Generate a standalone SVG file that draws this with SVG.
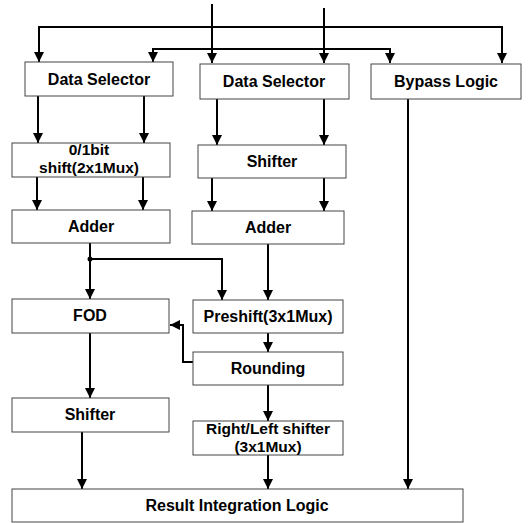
<svg xmlns="http://www.w3.org/2000/svg" width="531" height="523" viewBox="0 0 531 523">
<style>
.box{fill:#fff;stroke:#444;stroke-width:1}
.t{font-family:"Liberation Sans",Arial,sans-serif;font-weight:bold;font-size:16px;fill:#000;text-anchor:middle}
.t2{font-size:15.5px}
.c{fill:none;stroke:#000;stroke-width:2}
</style>
<defs>
<marker id="ah" markerUnits="userSpaceOnUse" markerWidth="10" markerHeight="10" viewBox="0 0 10 10" refX="10" refY="5" orient="auto">
<path d="M0,0 L10,5 L0,10 z" fill="#000"/>
</marker>
</defs>
<rect width="531" height="523" fill="#fff"/>
<g id="connectors">
<path class="c" d="M212,4 V63" marker-end="url(#ah)"/>
<path class="c" d="M324,8 V63" marker-end="url(#ah)"/>
<path class="c" d="M212,27 H39 V62" marker-end="url(#ah)"/>
<path class="c" d="M212,27 H502 V63" marker-end="url(#ah)"/>
<path class="c" d="M324,49 H153 V62" marker-end="url(#ah)"/>
<path class="c" d="M324,49 H390 V63" marker-end="url(#ah)"/>
<path class="c" d="M38,96 V143" marker-end="url(#ah)"/>
<path class="c" d="M144,96 V143" marker-end="url(#ah)"/>
<path class="c" d="M217,99 V145" marker-end="url(#ah)"/>
<path class="c" d="M324,99 V145" marker-end="url(#ah)"/>
<path class="c" d="M37,177 V210" marker-end="url(#ah)"/>
<path class="c" d="M143,177 V210" marker-end="url(#ah)"/>
<path class="c" d="M212,178 V211" marker-end="url(#ah)"/>
<path class="c" d="M324,178 V211" marker-end="url(#ah)"/>
<path class="c" d="M90,243 V299" marker-end="url(#ah)"/>
<circle cx="90" cy="259" r="2.5" fill="#000"/>
<path class="c" d="M90,259 H222 V300" marker-end="url(#ah)"/>
<path class="c" d="M268,244 V300" marker-end="url(#ah)"/>
<path class="c" d="M268,333 V352" marker-end="url(#ah)"/>
<path class="c" d="M193,362 H183 V325 H170" marker-end="url(#ah)"/>
<path class="c" d="M268,385 V421" marker-end="url(#ah)"/>
<path class="c" d="M268,455 V489" marker-end="url(#ah)"/>
<path class="c" d="M90,333 V398" marker-end="url(#ah)"/>
<path class="c" d="M82,432 V489" marker-end="url(#ah)"/>
<path class="c" d="M408,99 V489" marker-end="url(#ah)"/>
</g>
<g id="ds1"><rect class="box" x="25" y="62" width="148" height="34"/><text class="t" x="99" y="85">Data Selector</text></g>
<g id="ds2"><rect class="box" x="200" y="64" width="149" height="35"/><text class="t" x="274" y="87">Data Selector</text></g>
<g id="bypass"><rect class="box" x="371" y="64" width="150" height="35"/><text class="t" x="446" y="87">Bypass Logic</text></g>
<g id="bitshift"><rect class="box" x="12" y="143" width="158" height="34"/><text class="t t2" x="89" y="155">0/1bit</text><text class="t t2" x="89" y="173">shift(2x1Mux)</text></g>
<g id="shifter1"><rect class="box" x="198" y="145" width="148" height="33"/><text class="t" x="272" y="167">Shifter</text></g>
<g id="adder1"><rect class="box" x="12" y="210" width="158" height="33"/><text class="t" x="91" y="232">Adder</text></g>
<g id="adder2"><rect class="box" x="192" y="211" width="152" height="33"/><text class="t" x="268" y="233">Adder</text></g>
<g id="fod"><rect class="box" x="12" y="299" width="157" height="34"/><text class="t" x="90" y="321">FOD</text></g>
<g id="preshift"><rect class="box" x="193" y="300" width="150" height="33"/><text class="t" x="268" y="322">Preshift(3x1Mux)</text></g>
<g id="rounding"><rect class="box" x="193" y="352" width="150" height="33"/><text class="t" x="268" y="374">Rounding</text></g>
<g id="shifter2"><rect class="box" x="12" y="398" width="157" height="34"/><text class="t" x="90" y="420">Shifter</text></g>
<g id="rlshifter"><rect class="box" x="193" y="421" width="150" height="34"/><text class="t t2" x="268" y="434">Right/Left shifter</text><text class="t t2" x="268" y="452">(3x1Mux)</text></g>
<g id="result"><rect class="box" x="12" y="489" width="451" height="33"/><text class="t" x="237" y="511">Result Integration Logic</text></g>
</svg>
